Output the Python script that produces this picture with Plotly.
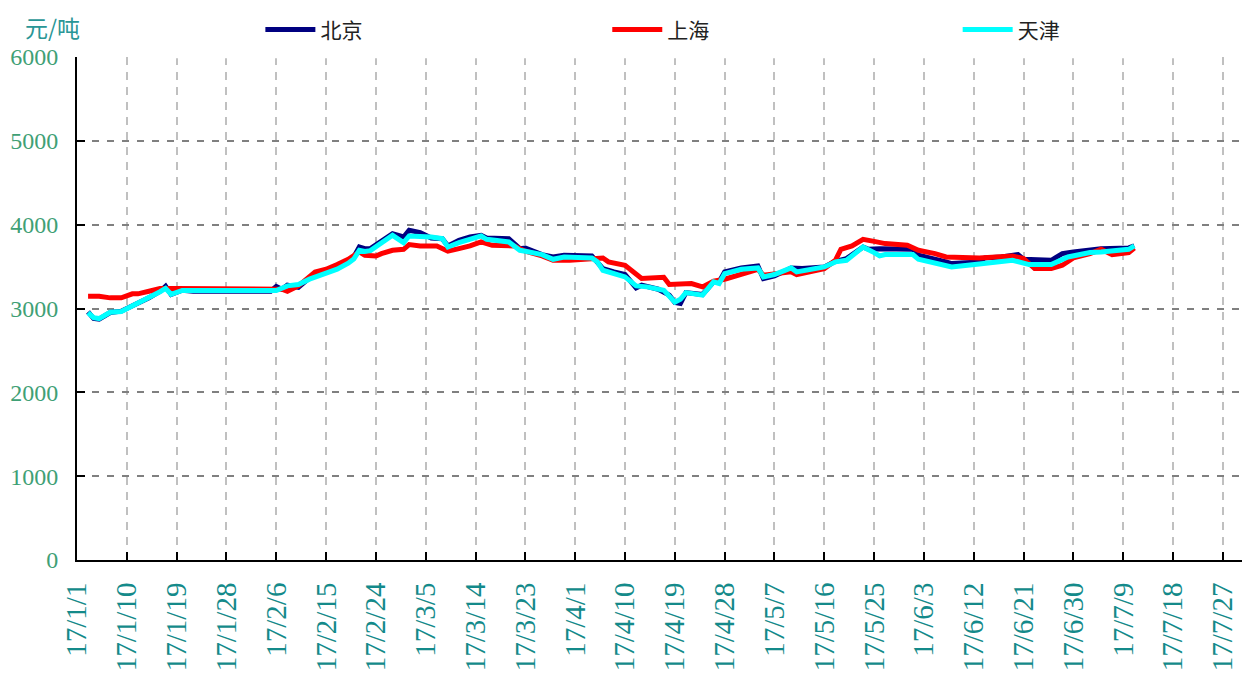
import plotly.graph_objects as go

# ---------------- data ----------------
bj_dates = ["01-03","01-04","01-05","01-06","01-07","01-09","01-11","01-12","01-14","01-16",
            "01-17","01-18","01-20","01-22","02-05","02-06","02-07","02-08","02-10","02-12",
            "02-15","02-16","02-18","02-20","02-21","02-22","02-23","02-25","02-27","03-01",
            "03-02","03-04","03-06","03-08","03-09","03-11","03-13","03-15","03-16","03-20",
            "03-22","03-23","03-26","03-28","03-30","04-04","04-06","04-08","04-10","04-12",
            "04-13","04-16","04-18","04-19","04-20","04-21","04-24","04-26","04-27","04-28",
            "05-01","05-04","05-05","05-07","05-10","05-12","05-16","05-18","05-20","05-23",
            "05-24","05-26","06-01","06-02","06-05","06-07","06-08","06-13","06-14","06-17",
            "06-20","06-21","06-26","06-28","06-30","07-03","07-05","07-10","07-11"]
bj_values = [2960,2881,2873,2921,2952,2968,3032,3060,3127,3206,
             3266,3167,3218,3206,3206,3262,3230,3278,3254,3365,
             3428,3456,3536,3615,3734,3714,3714,3800,3893,3853,
             3933,3905,3841,3833,3746,3813,3853,3873,3841,3833,
             3714,3722,3643,3615,3635,3627,3476,3436,3405,3246,
             3278,3230,3159,3071,3060,3190,3167,3317,3317,3437,
             3484,3508,3357,3389,3484,3476,3496,3563,3595,3734,
             3706,3714,3706,3635,3595,3556,3536,3556,3603,3615,
             3643,3587,3575,3655,3675,3706,3714,3722,3746]

sh_dates = ["01-03","01-05","01-07","01-09","01-11","01-12","01-14","01-16","01-19","02-07",
            "02-08","02-10","02-13","02-15","02-17","02-19","02-21","02-22","02-24","02-25",
            "02-27","03-01","03-02","03-04","03-07","03-09","03-11","03-13","03-15","03-17",
            "03-21","03-23","03-26","03-28","03-31","04-03","04-06","04-07","04-10","04-13",
            "04-15","04-17","04-18","04-20","04-22","04-24","04-26","04-28","05-01","05-04",
            "05-05","05-08","05-10","05-11","05-14","05-16","05-18","05-19","05-21","05-23",
            "05-25","05-27","05-31","06-02","06-05","06-07","06-13","06-17","06-19","06-21",
            "06-23","06-26","06-28","06-30","07-03","07-05","07-07","07-10","07-11"]
sh_values = [3147,3147,3127,3127,3175,3175,3206,3238,3238,3230,
             3206,3270,3436,3468,3524,3587,3675,3635,3627,3655,
             3694,3706,3762,3746,3746,3683,3714,3746,3794,3754,
             3746,3683,3627,3575,3575,3595,3603,3556,3516,3357,
             3365,3373,3286,3286,3298,3258,3325,3349,3405,3468,
             3397,3417,3437,3405,3456,3476,3575,3706,3746,3825,
             3801,3774,3754,3694,3655,3615,3603,3615,3627,3595,
             3476,3476,3516,3603,3655,3706,3643,3667,3722]

tj_dates = ["01-03","01-04","01-05","01-06","01-07","01-09","01-11","01-12","01-14","01-16",
            "01-17","01-18","01-20","01-22","02-06","02-08","02-10","02-12","02-15","02-17",
            "02-19","02-20","02-21","02-22","02-23","02-25","02-27","03-01","03-02","03-06",
            "03-08","03-09","03-11","03-15","03-16","03-20","03-22","03-23","03-26","03-28",
            "03-30","04-04","04-05","04-06","04-10","04-12","04-14","04-17","04-19","04-20",
            "04-21","04-24","04-26","04-27","04-28","05-01","05-04","05-05","05-07","05-10",
            "05-11","05-16","05-18","05-20","05-23","05-25","05-26","05-27","06-01","06-02",
            "06-06","06-08","06-13","06-17","06-19","06-22","06-26","06-29","07-03","07-05",
            "07-10","07-11"]
tj_values = [2950,2890,2880,2925,2955,2965,3030,3060,3120,3200,
             3240,3170,3215,3215,3215,3270,3286,3350,3420,3470,
             3540,3590,3694,3680,3690,3774,3873,3786,3865,3853,
             3833,3734,3786,3865,3825,3794,3694,3683,3643,3587,
             3615,3603,3556,3456,3377,3270,3258,3218,3075,3110,
             3190,3159,3317,3298,3417,3468,3484,3377,3405,3484,
             3437,3496,3556,3575,3734,3667,3627,3643,3643,3587,
             3516,3496,3530,3556,3575,3524,3524,3615,3667,3675,
             3706,3746]

series_names = ["北京", "上海", "天津"]
series_colors = ["#000080", "#FF0000", "#00FFFF"]
year = "2017-"

# ---------------- figure ----------------
fig = go.Figure()
legend_ids = ["legend", "legend2", "legend3"]
for name, color, lg, dts, vals in zip(series_names, series_colors, legend_ids,
                                      [bj_dates, sh_dates, tj_dates],
                                      [bj_values, sh_values, tj_values]):
    fig.add_trace(go.Scatter(
        x=[year + d for d in dts], y=vals, name=name, mode="lines",
        line=dict(color=color, width=5), legend=lg,
    ))

serif = "Liberation Serif"
cjk = "Noto Sans CJK SC"

legend_common = dict(
    orientation="h", y=1.054, yanchor="middle", xanchor="left",
    font=dict(family=cjk, size=21, color="#222222"),
    bgcolor="rgba(0,0,0,0)", itemwidth=50,
)

fig.update_layout(
    width=1250, height=689,
    margin=dict(l=69, r=13, t=49, b=137, autoexpand=False),
    paper_bgcolor="white", plot_bgcolor="white",
    font=dict(family=serif, size=22, color="#222222"),
    showlegend=True,
    legend=dict(x=0.157, **legend_common),
    legend2=dict(x=0.454, **legend_common),
    legend3=dict(x=0.754, **legend_common),
    xaxis=dict(
        type="date",
        range=["2017-01-01", "2017-07-31"],
        tick0="2017-01-01", dtick=9 * 86400000,
        tickformat="%y/%-m/%-d",
        tickangle=-90,
        tickfont=dict(family=serif, size=29, color="#148A8A"),
        ticks="inside", ticklen=8, tickwidth=2, tickcolor="black",
        showline=True, linecolor="black", linewidth=2,
        showgrid=True, gridcolor="#C0C0C0", gridwidth=2, griddash="8px,7px",
        zeroline=False,
        ticklabelstandoff=9,
    ),
    yaxis=dict(
        range=[0, 6000], dtick=1000, tick0=0,
        tickfont=dict(family=serif, size=24, color="#3FA075"),
        ticks="inside", ticklen=8, tickwidth=2, tickcolor="black",
        showline=True, linecolor="black", linewidth=2,
        showgrid=True, gridcolor="#808080", gridwidth=2, griddash="7px,8px",
        zeroline=False,
        ticklabelstandoff=12,
    ),
    shapes=[dict(
        type="rect", xref="paper", yref="y", x0=0.054, x1=0.957, y0=5985, y1=6100,
        fillcolor="white", line=dict(width=0), layer="above",
    )],
    annotations=[dict(
        text="元/吨", xref="paper", yref="paper", x=-0.046, y=1.06,
        xanchor="left", yanchor="middle", showarrow=False,
        font=dict(family=cjk, size=23, color="#2A9696"),
    )],
)

fig.write_html("out.html")
